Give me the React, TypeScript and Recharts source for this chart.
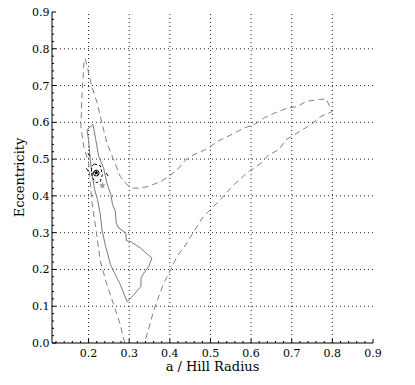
import { LineChart, Line, XAxis, YAxis, ReferenceLine, Scatter, Label } from 'recharts'

// axis ticks
const X_TICKS = [0.2, 0.3, 0.4, 0.5, 0.6, 0.7, 0.8, 0.9]
const Y_TICKS = [0.0, 0.1, 0.2, 0.3, 0.4, 0.5, 0.6, 0.7, 0.8, 0.9]
const X_GRID = [0.2, 0.3, 0.4, 0.5, 0.6, 0.7, 0.8]
const Y_GRID = [0.1, 0.2, 0.3, 0.4, 0.5, 0.6, 0.7, 0.8]

// outer (dashed) contour, open at the bottom edge
const OUTER: [number, number][] = [
  [0.289, 0.0], [0.278, 0.05], [0.262, 0.104], [0.245, 0.159], [0.229, 0.222],
  [0.219, 0.303], [0.208, 0.385], [0.2, 0.49], [0.188, 0.535], [0.181, 0.589],
  [0.184, 0.68], [0.189, 0.766], [0.192, 0.773], [0.208, 0.698], [0.221, 0.653],
  [0.233, 0.598], [0.245, 0.544], [0.262, 0.498], [0.278, 0.453], [0.295, 0.43],
  [0.311, 0.421], [0.324, 0.421], [0.348, 0.426], [0.377, 0.439], [0.398, 0.453],
  [0.418, 0.471], [0.439, 0.498], [0.459, 0.512], [0.488, 0.526], [0.517, 0.548],
  [0.554, 0.568], [0.583, 0.585], [0.607, 0.593], [0.632, 0.612], [0.657, 0.625],
  [0.69, 0.639], [0.715, 0.643], [0.735, 0.657], [0.768, 0.662], [0.785, 0.664],
  [0.799, 0.629], [0.772, 0.616], [0.747, 0.594], [0.706, 0.566], [0.686, 0.553],
  [0.669, 0.526], [0.644, 0.512], [0.624, 0.489], [0.595, 0.467], [0.562, 0.435],
  [0.546, 0.417], [0.525, 0.39], [0.5, 0.363], [0.48, 0.34], [0.459, 0.303],
  [0.439, 0.267], [0.418, 0.236], [0.402, 0.199], [0.385, 0.163], [0.361, 0.091],
  [0.338, 0.0],
]

// inner (solid) contour
const INNER: [number, number][] = [
  [0.211, 0.594], [0.196, 0.58], [0.2, 0.553], [0.204, 0.498], [0.209, 0.458],
  [0.215, 0.417], [0.222, 0.39], [0.229, 0.349], [0.233, 0.308], [0.241, 0.267],
  [0.254, 0.213], [0.266, 0.186], [0.278, 0.159], [0.295, 0.112], [0.311, 0.131],
  [0.329, 0.154], [0.329, 0.177], [0.336, 0.19], [0.348, 0.208], [0.356, 0.231],
  [0.344, 0.242], [0.328, 0.258], [0.303, 0.276], [0.293, 0.278], [0.292, 0.299],
  [0.274, 0.313], [0.268, 0.326], [0.266, 0.358], [0.259, 0.376], [0.255, 0.403],
  [0.245, 0.435], [0.237, 0.476], [0.225, 0.507], [0.217, 0.557], [0.211, 0.594],
]

// small black contours around the best fit
const CORE: [number, number][] = [
  [0.226, 0.462], [0.224, 0.468], [0.219, 0.47], [0.214, 0.468], [0.212, 0.462],
  [0.214, 0.456], [0.219, 0.454], [0.224, 0.456], [0.226, 0.462],
]
const CORE_DASHED: [number, number][] = [
  [0.214, 0.487], [0.229, 0.482], [0.234, 0.458], [0.229, 0.439], [0.219, 0.436],
  [0.209, 0.449], [0.207, 0.471], [0.209, 0.482], [0.214, 0.487],
]

const BEST_FIT: [number, number][] = [[0.219, 0.463]]
const ALT_FIT: [number, number][] = [[0.234, 0.428]]
const SPECKS: [number, number][] = [[0.201, 0.512], [0.197, 0.471], [0.246, 0.458]]

const pts = (a: [number, number][]) => a.map(([x, y]) => ({ x, y }))

const steps = (from: number, to: number, step: number) => {
  const out: number[] = []
  for (let v = from; v <= to + 1e-9; v += step) out.push(Math.round(v * 1000) / 1000)
  return out
}
const X_ALL = steps(0.12, 0.9, 0.02)
const Y_ALL = steps(0.0, 0.9, 0.02)

const isMajor = (v: number) => Math.abs(v * 10 - Math.round(v * 10)) < 1e-6
const tickLen = (v: number) => (isMajor(v) ? 4 : 2)

const FONT = '"DejaVu Serif", "Liberation Serif", serif'

function BottomTick(p: any) {
  const v = p.payload.value
  return (
    <g>
      <line x1={p.x} x2={p.x} y1={p.y} y2={p.y - tickLen(v)} stroke="#000" />
      {X_TICKS.some((t) => Math.abs(t - v) < 1e-6) && (
        <text x={p.x} y={p.y + 14} textAnchor="middle" fontSize={11} fill="#000" style={{ fontFamily: FONT }}>
          {v.toFixed(1)}
        </text>
      )}
    </g>
  )
}

function TopTick(p: any) {
  const v = p.payload.value
  return <line x1={p.x} x2={p.x} y1={p.y} y2={p.y + tickLen(v)} stroke="#000" />
}

function LeftTick(p: any) {
  const v = p.payload.value
  return (
    <g>
      <line x1={p.x} x2={p.x + tickLen(v)} y1={p.y} y2={p.y} stroke="#000" />
      {Y_TICKS.some((t) => Math.abs(t - v) < 1e-6) && (
        <text x={p.x - 2.5} y={p.y + 4} textAnchor="end" fontSize={11} fill="#000" style={{ fontFamily: FONT }}>
          {v.toFixed(1)}
        </text>
      )}
    </g>
  )
}

function RightTick(p: any) {
  const v = p.payload.value
  return <line x1={p.x} x2={p.x - tickLen(v)} y1={p.y} y2={p.y} stroke="#000" />
}

function starPath(cx: number, cy: number, r: number) {
  let d = ''
  for (let i = 0; i < 10; i++) {
    const rr = i % 2 === 0 ? r : r * 0.45
    const a = -Math.PI / 2 + (i * Math.PI) / 5
    d += (i === 0 ? 'M' : 'L') + (cx + rr * Math.cos(a)).toFixed(2) + ',' + (cy + rr * Math.sin(a)).toFixed(2)
  }
  return d + 'Z'
}

const BlackStar = (p: any) => <path d={starPath(p.cx, p.cy, 2.6)} fill="#000" />
const GrayStar = (p: any) => <path d={starPath(p.cx, p.cy, 3.5)} fill="#999" />
const Speck = (p: any) => <line x1={p.cx - 1} x2={p.cx + 1} y1={p.cy - 1.5} y2={p.cy + 1.5} stroke="#000" />

function YTitle(p: any) {
  const vb = p.viewBox
  const cx = 19
  const cy = vb.y + vb.height / 2
  return (
    <text
      x={cx}
      y={cy}
      transform={`rotate(-90, ${cx}, ${cy})`}
      textAnchor="middle"
      dominantBaseline="central"
      fontSize={13}
      fill="#000"
      style={{ fontFamily: FONT }}
    >
      Eccentricity
    </text>
  )
}

export default function App() {
  return (
    <div style={{ position: 'absolute', left: 0, top: 0, fontFamily: FONT, background: '#fff' }}>
      <LineChart width={415} height={385} margin={{ top: 12, right: 42, bottom: 0, left: 0 }}>
        <XAxis
          xAxisId="top"
          orientation="top"
          type="number"
          domain={[0.11, 0.9]}
          ticks={X_ALL}
          interval={0}
          height={0}
          tickSize={0}
          tickMargin={0}
          tickLine={false}
          tick={TopTick}
          axisLine={{ stroke: '#000' }}
          allowDataOverflow
        />
        <XAxis
          dataKey="x"
          type="number"
          domain={[0.11, 0.9]}
          ticks={X_ALL}
          interval={0}
          height={42}
          tickSize={0}
          tickMargin={0}
          tickLine={false}
          tick={BottomTick}
          axisLine={{ stroke: '#000' }}
          allowDataOverflow
        >
          <Label
            value="a / Hill Radius"
            position="insideBottom"
            offset={14}
            fontSize={13}
            fill="#000"
            style={{ fontFamily: FONT }}
          />
        </XAxis>
        <YAxis
          type="number"
          domain={[0, 0.9]}
          ticks={Y_ALL}
          interval={0}
          width={52}
          tickSize={0}
          tickMargin={0}
          tickLine={false}
          tick={LeftTick}
          axisLine={{ stroke: '#000' }}
          allowDataOverflow
        >
          <Label content={YTitle} />
        </YAxis>
        <YAxis
          yAxisId="right"
          orientation="right"
          type="number"
          domain={[0, 0.9]}
          ticks={Y_ALL}
          interval={0}
          width={0}
          tickSize={0}
          tickMargin={0}
          tickLine={false}
          tick={RightTick}
          axisLine={{ stroke: '#000' }}
          allowDataOverflow
        />
        {X_GRID.map((v) => (
          <ReferenceLine key={'gx' + v} x={v} stroke="#222" strokeDasharray="1 3" />
        ))}
        {Y_GRID.map((v) => (
          <ReferenceLine key={'gy' + v} y={v} stroke="#222" strokeDasharray="1 3" />
        ))}
        <Line
          data={pts(OUTER)}
          dataKey="y"
          type="linear"
          stroke="#808080"
          strokeWidth={1}
          strokeDasharray="6 4"
          dot={false}
          activeDot={false}
          isAnimationActive={false}
        />
        <Line
          data={pts(INNER)}
          dataKey="y"
          type="linear"
          stroke="#7a7a7a"
          strokeWidth={1}
          dot={false}
          activeDot={false}
          isAnimationActive={false}
        />
        <Line
          data={pts(CORE_DASHED)}
          dataKey="y"
          type="linear"
          stroke="#000"
          strokeWidth={1}
          strokeDasharray="3 2"
          dot={false}
          activeDot={false}
          isAnimationActive={false}
        />
        <Line
          data={pts(CORE)}
          dataKey="y"
          type="linear"
          stroke="#000"
          strokeWidth={1}
          dot={false}
          activeDot={false}
          isAnimationActive={false}
        />
        <Scatter data={pts(ALT_FIT)} dataKey="y" shape={GrayStar} isAnimationActive={false} />
        <Scatter data={pts(SPECKS)} dataKey="y" shape={Speck} isAnimationActive={false} />
        <Scatter data={pts(BEST_FIT)} dataKey="y" shape={BlackStar} isAnimationActive={false} />
      </LineChart>
    </div>
  )
}
